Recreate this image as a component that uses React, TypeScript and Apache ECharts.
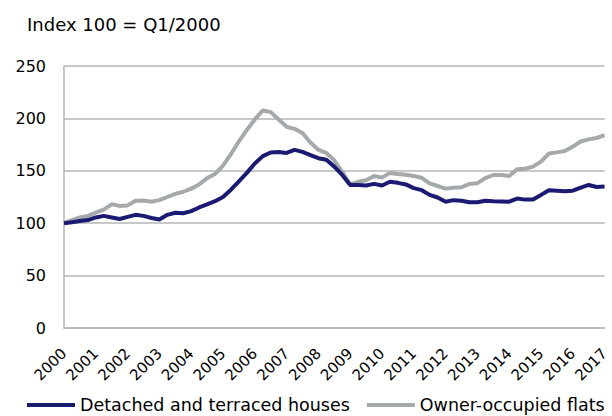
import React, { useEffect, useRef } from "react";
import * as echarts from "echarts";

const years = ["2000","2001","2002","2003","2004","2005","2006","2007","2008","2009","2010","2011","2012","2013","2014","2015","2016","2017"];
const quarters = ["Q1","Q2","Q3","Q4"];
const categories: string[] = [];
years.forEach((y) => quarters.forEach((q) => categories.push(y + " " + q)));
categories.length = 69;

const houses = [
  100, 101, 102, 103, 105.5, 107, 105.5, 104, 106, 108, 107, 105, 103.5, 108, 110, 109.5,
  111.5, 115, 118, 121, 125, 132, 140, 148, 157, 164, 167.5, 168, 167, 170, 168, 165,
  162, 160.5, 154, 146, 136.5, 136.5, 136, 137.5, 136, 139.5, 138.5, 137, 133.5, 131.5, 127, 124.5,
  120.5, 122, 121.5, 120, 120, 121.5, 121, 120.8, 120.5, 123.5, 122.5, 122.7, 127, 131.5, 131, 130.5,
  131, 134, 136.5, 134.5, 135,
];
const flats = [
  100, 103, 105.5, 107, 110, 113, 118, 116.5, 117, 121.5, 121.7, 120.5, 122, 125, 128, 130,
  133, 137, 143, 147, 155, 166, 178, 189, 199, 207.5, 206, 199, 192, 190, 186, 177,
  170, 167, 160, 149, 137, 139.5, 141, 145, 143.5, 148, 147, 146.3, 145, 143.3, 138, 135.5,
  133, 133.8, 134.3, 137.5, 138.2, 143, 146, 146, 145, 151.5, 152, 154, 158.8, 166.5, 167.6, 168.8,
  173, 178, 180, 181.3, 184,
];
const yTicks = [0, 50, 100, 150, 200, 250];

const seriesNames = ["Detached and terraced houses", "Owner-occupied flats"];
const colors = ["#1a1a73", "#a6a9ab"];
const FONT = "DejaVu Sans";

export default function App() {
  const ref = useRef<HTMLDivElement>(null);
  useEffect(() => {
    const chart = echarts.init(ref.current!, null, { renderer: "svg" });
    chart.setOption({
      animation: false,
      title: {
        text: "Index 100 = Q1/2000",
        left: 22,
        top: 10,
        textStyle: { fontFamily: FONT, fontSize: 18, fontWeight: "normal", color: "#000" },
      },
      legend: {
        left: 22,
        top: 391,
        icon: "rect",
        itemWidth: 48,
        itemHeight: 4,
        itemGap: 17,
        textStyle: { fontFamily: FONT, fontSize: 17.5, color: "#000" },
        data: seriesNames,
      },
      grid: { left: 64, right: 1, top: 66, bottom: 88, containLabel: false },
      xAxis: {
        type: "category",
        data: categories,
        boundaryGap: false,
        axisLine: { lineStyle: { color: "#b3b6b8", width: 1.5 } },
        axisTick: { show: false },
        axisLabel: {
          interval: 3,
          rotate: 45,
          align: "right",
          verticalAlign: "middle",
          margin: 23,
          fontFamily: FONT,
          fontSize: 15,
          color: "#000",
          formatter: (v: string) => v.split(" ")[0],
        },
        splitLine: { show: false },
      },
      yAxis: {
        type: "value",
        min: yTicks[0],
        max: yTicks[yTicks.length - 1],
        interval: 50,
        axisLine: { show: true, lineStyle: { color: "#b3b6b8", width: 1.5 } },
        axisTick: { show: false },
        axisLabel: { margin: 18, fontFamily: FONT, fontSize: 16, color: "#000" },
        splitLine: { lineStyle: { color: "#b3b6b8", width: 1.5 } },
      },
      series: [
        {
          name: seriesNames[0],
          type: "line",
          data: houses,
          symbol: "none",
          lineStyle: { color: colors[0], width: 4 },
          itemStyle: { color: colors[0] },
          z: 3,
        },
        {
          name: seriesNames[1],
          type: "line",
          data: flats,
          symbol: "none",
          lineStyle: { color: colors[1], width: 4 },
          itemStyle: { color: colors[1] },
          z: 2,
        },
      ],
    });
    return () => chart.dispose();
  }, []);
  return <div ref={ref} style={{ width: 612, height: 416, position: "absolute", left: 0, top: 0 }} />;
}
